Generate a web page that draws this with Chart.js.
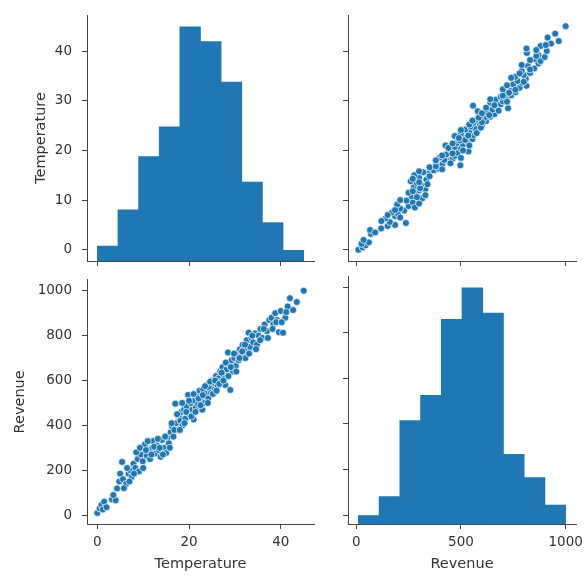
<!DOCTYPE html>
<html><head><meta charset="utf-8">
<script src="https://cdn.jsdelivr.net/npm/chart.js@4.4.1/dist/chart.umd.min.js"></script>
<style>
html,body{margin:0;padding:0;background:#fff;overflow:hidden;width:587px;height:578px}
canvas{position:absolute}
</style></head><body>
<canvas id="tl" width="330" height="275" style="left:0;top:0"></canvas>
<canvas id="tr" width="257" height="275" style="left:330px;top:0"></canvas>
<canvas id="bl" width="330" height="303" style="left:0;top:275px"></canvas>
<canvas id="br" width="257" height="303" style="left:330px;top:275px"></canvas>
<script>
// ---- data ----
const temperature = [0.0,0.5,0.9,1.2,1.5,3.2,4.0,4.3,4.8,5.0,5.4,5.6,6.3,6.8,7.2,7.5,7.9,8.3,8.8,9.1,9.5,9.9,10.4,10.8,11.2,11.5,12.0,12.2,12.6,13.0,13.4,13.8,14.1,14.5,15.0,15.3,15.6,16.0,16.3,16.6,17.0,17.2,17.5,17.8,18.1,18.3,18.6,18.9,19.2,19.5,19.8,20.1,20.4,20.7,21.0,21.2,21.5,21.8,22.0,22.3,22.6,22.9,23.1,23.4,23.7,24.0,24.2,24.5,24.8,25.0,25.3,25.6,25.9,26.2,26.5,26.8,27.0,27.3,27.6,27.9,28.2,28.5,28.8,29.0,29.3,29.6,29.9,30.2,30.5,30.8,31.1,31.4,31.7,32.0,32.3,32.6,33.0,33.3,33.6,34.0,34.4,34.8,35.2,35.6,36.0,36.5,37.0,37.5,38.0,38.4,38.8,39.2,39.6,40.0,40.5,41.0,41.5,42.0,42.7,43.5,45.0,
  2.0,3.5,5.8,6.5,7.0,8.0,8.5,9.3,10.0,10.6,11.0,11.8,12.4,13.2,13.6,14.3,14.8,15.8,16.2,16.8,17.4,18.0,18.5,19.0,19.4,20.0,20.5,21.0,21.4,22.1,22.5,23.0,23.5,24.1,24.6,25.2,25.7,26.0,26.6,27.1,27.5,28.0,28.6,29.1,29.8,30.3,31.0,31.6,32.2,33.1,33.8,34.6,35.5,36.3,37.2,38.2,39.0,40.2,41.2];
const revenue = [10,30,45,25,60,70,66,119,150,185,237,160,140,185,200,170,229,210,250,195,270,240,316,265,290,250,300,330,275,310,290,260,335,300,277,345,320,370,395,350,497,410,380,440,420,460,400,470,430,485,536,450,500,470,426,510,480,530,495,555,520,470,560,500,540,580,520,565,545,600,590,560,620,575,610,640,595,660,625,580,650,725,670,558,690,640,700,665,720,690,740,710,760,735,700,780,813,750,790,770,810,760,800,830,790,850,820,870,880,850,900,870,815,910,813,880,930,967,914,950,1000,
  35,90,120,210,150,185,280,300,210,290,330,270,305,340,300,270,350,300,410,380,450,380,500,410,460,510,440,540,460,520,490,535,575,500,595,540,600,555,585,635,600,680,620,660,720,640,700,730,760,720,800,740,780,830,790,830,860,860,905];

const tempBinEdges = [0,4.5,9,13.5,18,22.5,27,31.5,36,40.5,45];
const tempCounts   = [7,24,49,63,110,103,84,37,18,5];
const revBinEdges  = [10,109,208,307,406,505,604,703,802,901,1000];
const revCounts    = [4,13,49,61,97,112,100,33,22,9];

const tempTicks = [0,10,20,30,40];
const tempTicksX = [0,20,40];
const revTicks  = [0,200,400,600,800,1000];
const revTicksX = [0,500,1000];

// ---- helpers ----
const BLUE = '#1f77b4';
const AX = '#444';
const TXT = '#333';
const FONT = "'DejaVu Sans', sans-serif";
const tMin = tempBinEdges[0], tMax = tempBinEdges[tempBinEdges.length-1];
const rMin = revBinEdges[0], rMax = revBinEdges[revBinEdges.length-1];
const tPad = (tMax - tMin) * 0.05, rPad = (rMax - rMin) * 0.05;
const tRange = {min: tMin - tPad, max: tMax + tPad};
const rRange = {min: rMin - rPad, max: rMax + rPad};

function hist(edges, counts){
  return counts.map((c,i)=>({x:(edges[i]+edges[i+1])/2, y:c}));
}
function zeroPad(s){ s.paddingLeft=0; s.paddingRight=0; s.paddingTop=0; s.paddingBottom=0; }

function axis(opts){
  const a = {
    type:'linear', min: opts.range.min, max: opts.range.max, offset:false,
    position: opts.horizontal ? 'bottom' : 'left',
    grid:{display:true, drawOnChartArea:false, drawTicks:true, tickLength:5, color:AX, lineWidth:1, offset:false},
    border:{display:true, color:AX, width:1},
    ticks:{display: !!opts.showLabels, color:TXT, font:{family:FONT, size:13.5}, padding: opts.horizontal ? 5 : 10,
           maxRotation:0, autoSkip:false, callback: v => String(v)},
    afterBuildTicks: s => { s.ticks = opts.ticks.map(v=>({value:v})); },
    afterFit: s => { if (opts.horizontal) s.height = opts.size; else s.width = opts.size; zeroPad(s); }
  };
  if (opts.title) {
    a.title = {display:true, text:opts.title, color:TXT, font:{family:FONT, size:14.5}, padding: opts.titlePad};
  }
  return a;
}
function hiddenCount(counts){
  return {type:'linear', display:false, min:0, max: Math.max(...counts)*1.05, position:'right'};
}
const base = {
  responsive:false, animation:false, events:[],
  plugins:{legend:{display:false}, tooltip:{enabled:false}}
};
const pointStyle = {backgroundColor:BLUE, borderColor:'#fff', borderWidth:0.7, pointRadius:3.5};

// ---- top-left: Temperature histogram ----
new Chart(document.getElementById('tl'), {
  type:'bar',
  data:{datasets:[{data:hist(tempBinEdges,tempCounts), xAxisID:'x', yAxisID:'yc',
    backgroundColor:BLUE, borderWidth:0, barPercentage:1, categoryPercentage:1}]},
  options:Object.assign({}, base, {
    layout:{padding:{left:0, top:15, right:16, bottom:0}},
    scales:{
      x: axis({range:tRange, ticks:tempTicksX, showLabels:false, size:14, horizontal:true}),
      y: axis({range:tRange, ticks:tempTicks, showLabels:true, size:87, title:'Temperature', titlePad:{top:33, bottom:0}}),
      yc: hiddenCount(tempCounts)
    }
  })
});

// ---- top-right: scatter Revenue (x) vs Temperature (y) ----
new Chart(document.getElementById('tr'), {
  type:'scatter',
  data:{datasets:[Object.assign({data: temperature.map((t,i)=>({x:revenue[i], y:t}))}, pointStyle)]},
  options:Object.assign({}, base, {
    layout:{padding:{left:0, top:15, right:11, bottom:0}},
    scales:{
      x: axis({range:rRange, ticks:revTicksX, showLabels:false, size:14, horizontal:true}),
      y: axis({range:tRange, ticks:tempTicks, showLabels:false, size:18})
    }
  })
});

// ---- bottom-left: scatter Temperature (x) vs Revenue (y) ----
new Chart(document.getElementById('bl'), {
  type:'scatter',
  data:{datasets:[Object.assign({data: temperature.map((t,i)=>({x:t, y:revenue[i]}))}, pointStyle)]},
  options:Object.assign({}, base, {
    layout:{padding:{left:0, top:1, right:16, bottom:0}},
    scales:{
      x: axis({range:tRange, ticks:tempTicksX, showLabels:true, size:54, horizontal:true, title:'Temperature', titlePad:{top:0, bottom:5}}),
      y: axis({range:rRange, ticks:revTicks, showLabels:true, size:87, title:'Revenue', titlePad:{top:12, bottom:0}})
    }
  })
});

// ---- bottom-right: Revenue histogram ----
new Chart(document.getElementById('br'), {
  type:'bar',
  data:{datasets:[{data:hist(revBinEdges,revCounts), xAxisID:'x', yAxisID:'yc',
    backgroundColor:BLUE, borderWidth:0, barPercentage:1, categoryPercentage:1}]},
  options:Object.assign({}, base, {
    layout:{padding:{left:0, top:1, right:11, bottom:0}},
    scales:{
      x: axis({range:rRange, ticks:revTicksX, showLabels:true, size:54, horizontal:true, title:'Revenue', titlePad:{top:0, bottom:5}}),
      y: axis({range:rRange, ticks:revTicks, showLabels:false, size:18}),
      yc: hiddenCount(revCounts)
    }
  })
});
</script>
</body></html>
